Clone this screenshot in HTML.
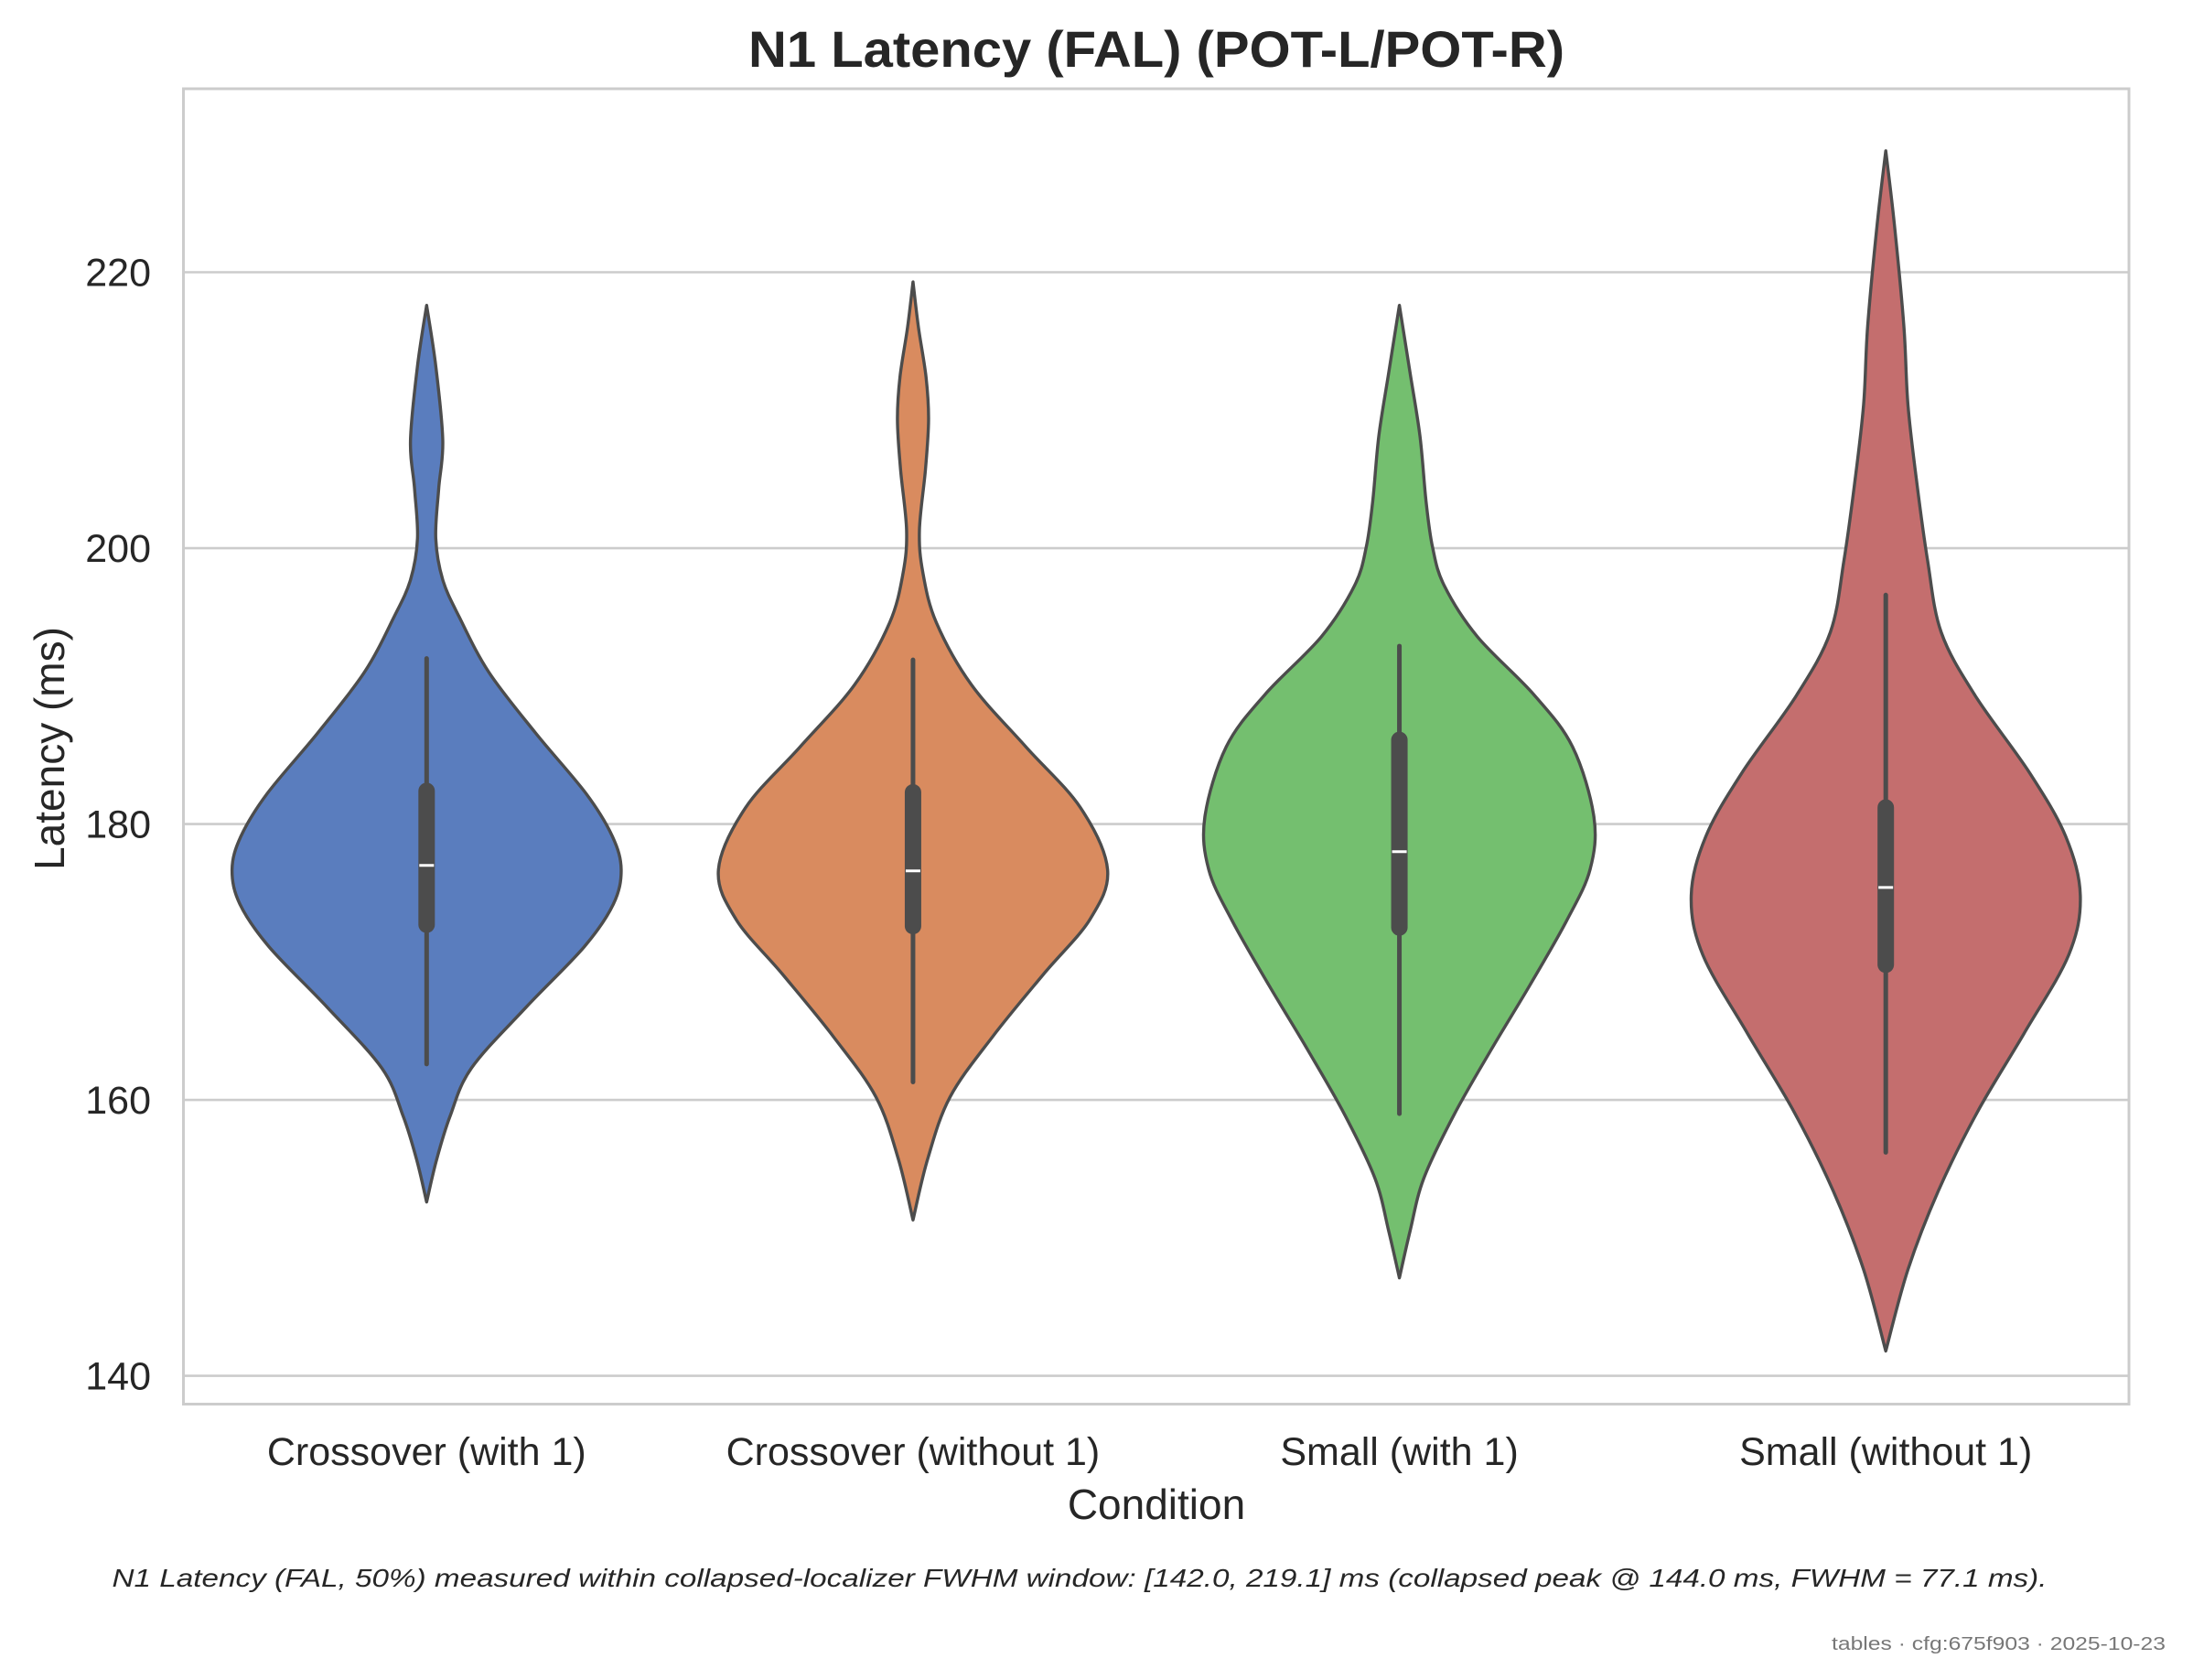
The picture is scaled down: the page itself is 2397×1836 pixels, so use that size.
<!DOCTYPE html>
<html><head><meta charset="utf-8">
<style>
html,body{margin:0;padding:0;background:#fff;}
svg{display:block;font-family:"Liberation Sans",Arial,sans-serif;}
</style></head>
<body>
<svg id="chart" width="2397" height="1836" viewBox="0 0 2397 1836" xmlns="http://www.w3.org/2000/svg">
<rect x="0" y="0" width="2397" height="1836" fill="#ffffff"/>
<g id="grid"></g>
<g id="violins"></g>
<rect x="200.5" y="97" width="2126.5" height="1437.5" fill="none" stroke="#cccccc" stroke-width="3"/>
<g id="yticks"></g>
<g id="xticks"></g>
<text x="1264" y="73" text-anchor="middle" font-size="56" font-weight="bold" fill="#262626" textLength="892" lengthAdjust="spacingAndGlyphs">N1 Latency (FAL) (POT-L/POT-R)</text>
<text transform="translate(70,818) rotate(-90)" text-anchor="middle" font-size="46" fill="#262626">Latency (ms)</text>
<text x="1264" y="1660" text-anchor="middle" font-size="46" fill="#262626">Condition</text>
<text x="1180" y="1734" text-anchor="middle" font-size="28" font-style="italic" fill="#262626" textLength="2115" lengthAdjust="spacingAndGlyphs">N1 Latency (FAL, 50%) measured within collapsed-localizer FWHM window: [142.0, 219.1] ms (collapsed peak @ 144.0 ms, FWHM = 77.1 ms).</text>
<text x="2367" y="1803" text-anchor="end" font-size="20" fill="#777777" textLength="365" lengthAdjust="spacingAndGlyphs">tables · cfg:675f903 · 2025-10-23</text>
</svg>
<script>
const categories = ["Crossover (with 1)", "Crossover (without 1)", "Small (with 1)", "Small (without 1)"];
const colors = ["#5a7dbe", "#d98b5f", "#74bf6f", "#c46e6e"];
const yTicks = [140, 160, 180, 200, 220];

const v0Values = [152.6,155.6,158.8,162.3,166.7,171.1,174.2,176.7,179.1,182.2,186.6,191.0,195.0,197.7,200.7,204.3,207.8,213.2,217.6];
const v0Widths = [0,0.05,0.12,0.23,0.51,0.81,0.96,1.0,0.955,0.82,0.56,0.32,0.168,0.083,0.047,0.062,0.083,0.047,0];
const v1Values = [151.3,155.7,160.2,164.6,169.1,173.1,176.7,181.2,185.6,190.1,194.6,198.2,201.3,205.7,209.3,212.4,216.0,219.3];
const v1Widths = [0,0.075,0.19,0.41,0.67,0.91,1.0,0.86,0.58,0.30,0.12,0.051,0.033,0.064,0.08,0.067,0.028,0];
const v2Values = [147.1,150.5,154.3,158.9,163.6,168.3,173.0,176.7,180.5,185.6,189.4,193.6,197.3,200.1,203.4,208.1,212.7,217.6];
const v2Widths = [0,0.055,0.125,0.28,0.47,0.67,0.86,0.98,1.0,0.89,0.69,0.40,0.23,0.17,0.137,0.106,0.055,0];
const v3Values = [141.8,147.7,153.4,159.1,164.8,170.5,174.8,179.1,183.7,189.3,193.9,199.1,204.7,210.4,216.1,223.5,228.8];
const v3Widths = [0,0.114,0.27,0.47,0.71,0.94,1.0,0.925,0.74,0.46,0.285,0.215,0.16,0.114,0.093,0.044,0];

const medians = [177.0, 176.6, 178.0, 175.4];
const q1s = [172.7, 172.6, 172.5, 169.8];
const q3s = [182.4, 182.3, 186.1, 181.2];
const whiskerLo = [162.6, 161.3, 159.0, 156.2];
const whiskerHi = [192.0, 191.9, 192.9, 196.6];

const X0 = 200.5, X1 = 2327, Y0 = 97, Y1 = 1534.5;
const YMIN = 137.95, YMAX = 233.3;
function yScale(v){ return Y1 - (v - YMIN) / (YMAX - YMIN) * (Y1 - Y0); }
const band = (X1 - X0) / categories.length;
function xScale(i){ return X0 + band * (i + 0.5); }
const halfMax = band * 0.4;
const NS = "http://www.w3.org/2000/svg";
function mk(tag, attrs, parent){ const e = document.createElementNS(NS, tag); for (const k in attrs) e.setAttribute(k, attrs[k]); parent.appendChild(e); return e; }

const grid = document.getElementById('grid');
const yt = document.getElementById('yticks');
yTicks.forEach(t => {
  const ln = mk('line', {x1: X0, x2: X1, y1: yScale(t), y2: yScale(t), stroke: '#cccccc', 'stroke-width': 2.6}, grid);
  
  
  const tx = mk('text', {x: 165, y: yScale(t) + 15, 'text-anchor': 'end', 'font-size': 43, fill: '#262626'}, yt);
  tx.textContent = t;
  
  
});
const xt = document.getElementById('xticks');
categories.forEach((c, i) => {
  const tx = mk('text', {x: xScale(i), y: 1601, 'text-anchor': 'middle', 'font-size': 43, fill: '#262626'}, xt);
  tx.textContent = c;
  
  
});

function smoothPath(pts){
  let d = 'M' + pts[0][0].toFixed(2) + ',' + pts[0][1].toFixed(2);
  for (let i = 0; i < pts.length - 1; i++){
    const p0 = pts[Math.max(0, i-1)], p1 = pts[i], p2 = pts[i+1], p3 = pts[Math.min(pts.length-1, i+2)];
    const c1 = [p1[0] + (p2[0]-p0[0])/6, p1[1] + (p2[1]-p0[1])/6];
    const c2 = [p2[0] - (p3[0]-p1[0])/6, p2[1] - (p3[1]-p1[1])/6];
    d += 'C' + c1[0].toFixed(2) + ',' + c1[1].toFixed(2) + ' ' + c2[0].toFixed(2) + ',' + c2[1].toFixed(2) + ' ' + p2[0].toFixed(2) + ',' + p2[1].toFixed(2);
  }
  return d;
}
const vals = [v0Values, v1Values, v2Values, v3Values];
const wids = [v0Widths, v1Widths, v2Widths, v3Widths];
const vg = document.getElementById('violins');
categories.forEach((c, i) => {
  const cx = xScale(i);
  const right = vals[i].map((v, k) => [cx + wids[i][k] * halfMax, yScale(v)]);
  const left = vals[i].map((v, k) => [cx - wids[i][k] * halfMax, yScale(v)]).reverse();
  const d = smoothPath(right) + smoothPath(left).replace(/^M[^C]*/, 'L' + left[0][0].toFixed(2) + ',' + left[0][1].toFixed(2)) + 'Z';
  const p = mk('path', {d: d, fill: colors[i], stroke: '#4c4c4c', 'stroke-width': 3.4, 'stroke-linejoin': 'round'}, vg);
  
  
  const w = mk('line', {x1: cx, x2: cx, y1: yScale(whiskerLo[i]), y2: yScale(whiskerHi[i]), stroke: '#4c4c4c', 'stroke-width': 5, 'stroke-linecap': 'round'}, vg);
  
  
  const b = mk('line', {x1: cx, x2: cx, y1: yScale(q1s[i]), y2: yScale(q3s[i]), stroke: '#4c4c4c', 'stroke-width': 18, 'stroke-linecap': 'round'}, vg);
  
  
  const m = mk('line', {x1: cx - 8, x2: cx + 8, y1: yScale(medians[i]), y2: yScale(medians[i]), stroke: '#ffffff', 'stroke-width': 3}, vg);
  
  
});
</script>
</body></html>
